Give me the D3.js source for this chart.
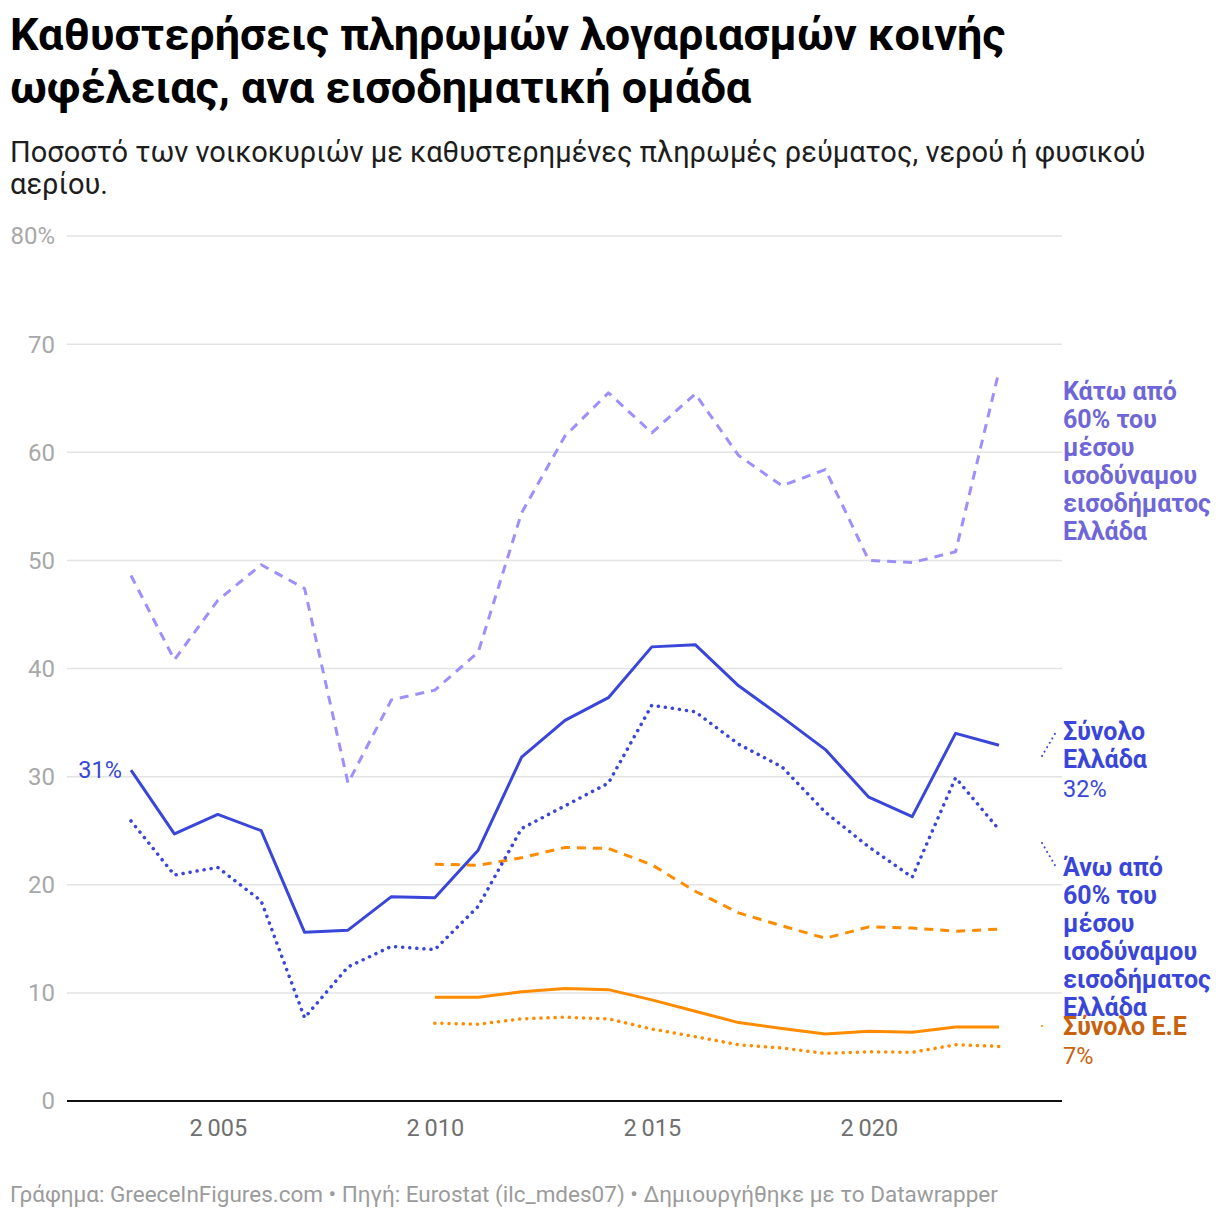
<!DOCTYPE html>
<meta charset="utf-8">
<style type="text/css">
body { margin: 0; background: #fff; }
svg text { font-family: Roboto, "Noto Sans", sans-serif; }
.grid line { stroke: #e3e3e3; stroke-width: 1.5; }
.ylab { fill: #a8a8a8; font-size: 24px; }
.xlab { fill: #707070; font-size: 23.5px; }
.line { fill: none; stroke-width: 3; stroke-linejoin: round; }
.lbl { font-size: 25px; font-weight: bold; }
</style>
<body>
</body>
<script src="https://d3js.org/d3.v7.min.js"></script>
<script>
// years and series (% of households with utility bill arrears)
var years = d3.range(2003, 2024);
var yearsEU = d3.range(2010, 2024);

var grTotal = [30.6, 24.7, 26.5, 25.0, 15.6, 15.8, 18.9, 18.8, 23.2, 31.8, 35.2, 37.3, 42.0, 42.2, 38.4, 35.5, 32.5, 28.1, 26.3, 34.0, 32.9];
var grBelow = [48.6, 40.8, 46.3, 49.6, 47.4, 29.4, 37.1, 38.0, 41.5, 54.4, 61.5, 65.5, 61.8, 65.4, 59.7, 56.9, 58.4, 50.0, 49.8, 50.8, 67.5];
var grAbove = [25.9, 20.9, 21.6, 18.5, 7.7, 12.4, 14.3, 14.0, 18.0, 25.2, 27.3, 29.4, 36.6, 36.0, 33.0, 30.9, 26.7, 23.5, 20.7, 29.9, 25.1];
var euTotal = [9.6, 9.6, 10.1, 10.4, 10.3, 9.35, 8.3, 7.25, 6.7, 6.2, 6.45, 6.35, 6.85, 6.85];
var euBelow = [21.9, 21.8, 22.5, 23.45, 23.35, 21.85, 19.4, 17.4, 16.2, 15.05, 16.1, 16.0, 15.7, 15.9];
var euAbove = [7.2, 7.1, 7.6, 7.75, 7.6, 6.65, 5.95, 5.2, 4.9, 4.4, 4.55, 4.5, 5.2, 5.05];

var yTicks = [0, 10, 20, 30, 40, 50, 60, 70, 80];
var xTicks = [2005, 2010, 2015, 2020];

var blue = "#3a46d9", lilac = "#9d90fa", orange = "#ff8c00";

var series = [
  {vals: euAbove, yrs: yearsEU, color: orange, dash: "0.1,7"},
  {vals: euBelow, yrs: yearsEU, color: orange, dash: "9,7"},
  {vals: euTotal, yrs: yearsEU, color: orange, dash: null},
  {vals: grAbove, yrs: years, color: blue, dash: "0.1,7"},
  {vals: grBelow, yrs: years, color: lilac, dash: "9,7"},
  {vals: grTotal, yrs: years, color: blue, dash: null}
];

var W = 1220, H = 1218;
var left = 67, right = 1062;

var xScale = d3.scaleLinear().domain([2003, 2023]).range([131, 999]);
var yScale = d3.scaleLinear().domain([0, 80]).range([1101, 236]);

var svg = d3.select("body").append("svg")
    .attr("width", W)
    .attr("height", H);

// title + subtitle
var title = ["Καθυστερήσεις πληρωμών λογαριασμών κοινής", "ωφέλειας, ανα εισοδηματική ομάδα"];
svg.selectAll(".title").data(title).enter().append("text")
    .attr("x", 10)
    .attr("y", function(d, i) { return 50 + i * 53; })
    .style("font-size", "45px")
    .style("font-weight", "bold")
    .style("fill", "#000")
    .text(function(d) { return d; });

var sub = ["Ποσοστό των νοικοκυριών με καθυστερημένες πληρωμές ρεύματος, νερού ή φυσικού", "αερίου."];
svg.selectAll(".sub").data(sub).enter().append("text")
    .attr("x", 10)
    .attr("y", function(d, i) { return 162 + i * 32; })
    .style("font-size", "29px")
    .style("fill", "#1d1d1d")
    .text(function(d) { return d; });

// gridlines
var grid = svg.append("g").attr("class", "grid");
grid.selectAll("line").data(yTicks.filter(function(d) { return d > 0; })).enter().append("line")
    .attr("x1", left).attr("x2", right)
    .attr("y1", function(d) { return yScale(d); })
    .attr("y2", function(d) { return yScale(d); });

svg.selectAll(".ylab").data(yTicks).enter().append("text")
    .attr("class", "ylab")
    .attr("x", 55)
    .attr("y", function(d) { return yScale(d); })
    .attr("dy", "0.35em")
    .attr("text-anchor", "end")
    .text(function(d) { return d === 80 ? "80%" : d; });

// x axis
var xAxis = d3.axisBottom(xScale)
    .tickValues(xTicks)
    .tickSize(0)
    .tickPadding(18)
    .tickFormat(function(d) { return String(d).charAt(0) + "\u2009" + String(d).slice(1); });
var gx = svg.append("g")
    .attr("transform", "translate(0," + yScale(0) + ")")
    .call(xAxis);
gx.select(".domain").remove();
gx.selectAll("text").attr("class", "xlab").attr("fill", null)
    .style("font-size", "23.5px").style("font-family", "Roboto, sans-serif");

svg.append("line")
    .attr("x1", left).attr("x2", right)
    .attr("y1", yScale(0)).attr("y2", yScale(0))
    .style("stroke", "#111").style("stroke-width", 2);

// lines
var line = d3.line()
    .x(function(d) { return xScale(d[0]); })
    .y(function(d) { return yScale(d[1]); });

series.forEach(function(s) {
  svg.append("path")
      .datum(s.yrs.map(function(y, i) { return [y, s.vals[i]]; }))
      .attr("class", "line")
      .attr("d", line)
      .style("stroke", s.color)
      .style("stroke-dasharray", s.dash)
      .style("stroke-width", s.dash === "0.1,7" ? 3.5 : 3)
      .style("stroke-linecap", s.dash === "0.1,7" ? "round" : "butt");
});

// start label
svg.append("text")
    .attr("x", 122).attr("y", yScale(grTotal[0]))
    .attr("dy", "0.35em")
    .attr("text-anchor", "end")
    .style("font-size", "23.5px")
    .style("fill", blue)
    .text(Math.round(grTotal[0]) + "%");

// connectors to right labels
var conn = [
  {x1: 1042, y1: 756, x2: 1056, y2: 732, color: blue},
  {x1: 1042, y1: 843, x2: 1056, y2: 867, color: blue},
  {x1: 1042, y1: 1026, x2: 1043, y2: 1026, color: orange}
];
svg.selectAll(".conn").data(conn).enter().append("line")
    .attr("x1", function(d) { return d.x1; }).attr("y1", function(d) { return d.y1; })
    .attr("x2", function(d) { return d.x2; }).attr("y2", function(d) { return d.y2; })
    .style("stroke", function(d) { return d.color; })
    .style("stroke-width", 2)
    .style("stroke-linecap", "round")
    .style("stroke-dasharray", "0.1,5");

// right labels
var labels = [
  {y: 391, color: "#6f66d8", lines: ["Κάτω από", "60% του", "μέσου", "ισοδύναμου", "εισοδήματος", "Ελλάδα"], val: null},
  {y: 731, color: blue, lines: ["Σύνολο", "Ελλάδα"], val: "32%"},
  {y: 867, color: blue, lines: ["Άνω από", "60% του", "μέσου", "ισοδύναμου", "εισοδήματος", "Ελλάδα"], val: null},
  {y: 1026, color: "#c8620e", lines: ["Σύνολο Ε.Ε"], val: "7%"}
];
labels.forEach(function(l) {
  var t = svg.append("text")
      .attr("x", 1063)
      .attr("y", l.y)
      .style("fill", l.color);
  l.lines.forEach(function(s, i) {
    t.append("tspan").attr("x", 1063).attr("dy", i === 0 ? "0.35em" : 28)
        .attr("class", "lbl").text(s);
  });
  if (l.val) {
    t.append("tspan").attr("x", 1063).attr("dy", 29)
        .style("font-size", "23.5px").text(l.val);
  }
});

// footer
svg.append("text")
    .attr("x", 10).attr("y", 1202)
    .style("font-size", "22.5px")
    .style("fill", "#9b9b9b")
    .text("Γράφημα: GreeceInFigures.com • Πηγή: Eurostat (ilc_mdes07)  • Δημιουργήθηκε με το Datawrapper");
</script>
